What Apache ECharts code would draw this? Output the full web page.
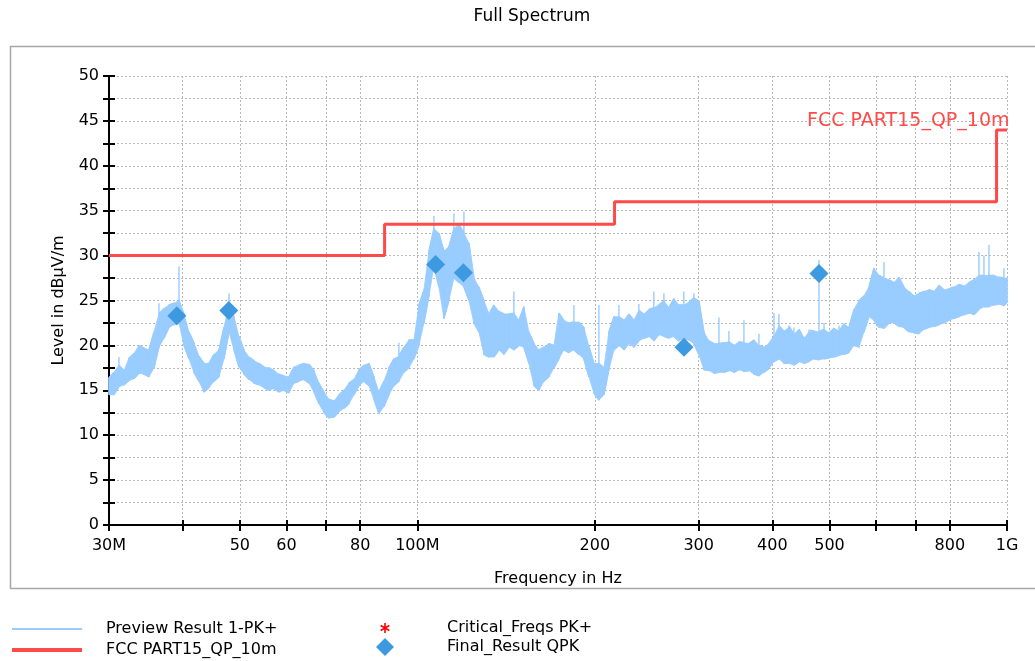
<!DOCTYPE html>
<html><head><meta charset="utf-8">
<script src="https://cdn.jsdelivr.net/npm/echarts@6/dist/echarts.min.js"></script>
<style>html,body{margin:0;padding:0;background:#fff}#c{width:1035px;height:661px}</style>
</head><body><div id="c"></div><script>
// ---- Preview Result 1-PK+ : sampled frequencies (MHz) with min/max of trace at each sample
const previewFreqMHz = [
30.00,30.59,31.19,31.81,32.44,33.08,33.73,34.39,35.07,35.76,36.46,37.18,37.92,38.66,39.43,40.20,41.00,41.80,42.63,43.47,
44.33,45.20,46.09,47.00,47.93,48.87,49.83,50.81,51.82,52.84,53.88,54.94,56.02,57.12,58.25,59.40,60.57,61.76,62.98,64.22,
65.50,66.79,68.11,69.45,70.82,72.22,73.64,75.09,76.57,78.08,79.61,81.18,82.78,84.41,86.07,87.77,89.50,91.26,93.06,94.89,
96.78,98.69,100.63,102.62,104.64,106.70,108.80,110.95,113.13,115.36,117.64,119.96,122.32,124.73,127.19,129.70,132.25,134.86,137.51,140.22,
143.0,145.8,148.7,151.6,154.6,157.7,160.8,163.9,167.2,170.5,173.8,177.2,180.7,184.3,187.9,191.6,195.4,199.3,203.2,207.2,
211.3,215.5,219.7,224.0,228.4,232.9,237.5,242.2,247.0,251.8,256.8,261.9,267.0,272.3,277.7,283.1,288.7,294.4,300.2,306.2,
312.3,318.5,324.7,331.1,337.6,344.3,351.1,358.0,365.1,372.3,379.6,387.1,394.7,402.5,410.4,418.5,426.8,435.2,443.8,452.5,
461.5,470.6,479.9,489.4,499.0,508.8,518.9,529.1,539.5,550.2,561.0,572.0,583.3,594.8,606.5,618.5,630.7,643.1,655.8,668.7,
681.9,695.3,709.0,723.0,737.3,751.8,766.6,781.7,797.1,812.8,828.9,845.2,861.9,878.9,896.2,913.9,931.9,950.3,969.0,988.1,1000
];
const previewLow = [
14.5,14.5,15.4,15.6,16.1,16.3,16.9,16.8,16.5,17.5,19.8,20.8,22.0,22.3,22.5,20.0,18.5,17.0,16.0,14.8,
15.3,16.0,16.5,18.5,21.5,19.5,17.6,16.8,16.2,15.8,15.6,15.3,15.0,15.2,14.8,15.0,14.7,15.8,16.0,16.2,
15.8,14.8,13.5,12.5,11.9,12.0,12.6,13.0,13.5,14.5,15.5,16.0,15.5,14.0,12.4,13.2,14.5,15.5,16.0,17.0,
17.5,18.5,20.0,22.5,25.5,28.8,26.5,23.0,25.0,27.5,27.0,26.5,25.0,22.5,21.5,19.0,18.7,18.7,19.5,19.0,
19.8,19.5,20.0,19.8,18.0,15.5,15.0,16.0,16.5,17.5,18.5,19.5,19.2,19.5,19.0,18.5,16.5,14.7,13.9,14.5,
17.3,19.5,20.0,19.5,20.2,19.8,20.5,20.8,21.0,20.5,21.2,21.0,20.8,21.0,20.5,20.8,20.6,20.2,19.0,17.3,
17.2,16.9,17.0,17.0,17.2,17.0,17.3,17.1,17.2,16.8,16.6,17.0,17.4,18.2,18.5,18.0,18.0,17.8,18.2,18.0,
18.2,18.5,18.4,18.5,18.6,18.7,18.9,19.0,19.2,20.0,19.8,21.5,23.2,22.8,22.0,21.9,22.5,22.5,22.1,22.0,
21.5,21.4,21.3,21.8,22.0,22.1,22.3,22.5,22.8,23.0,23.2,23.4,23.6,23.4,24.0,24.3,24.3,24.5,24.6,24.4,24.8
];
const previewHigh = [
16.4,17.0,17.8,17.2,18.6,19.1,20.0,19.7,19.5,21.5,23.5,24.1,24.5,24.7,25.0,23.5,21.5,20.3,18.8,18.0,
18.0,19.0,19.5,22.0,24.5,23.2,21.0,19.5,18.7,18.3,18.0,17.6,17.5,17.2,16.8,16.6,16.5,17.6,17.8,18.0,
17.9,17.2,15.8,14.8,14.0,13.8,14.5,15.0,15.8,16.2,17.3,17.8,18.0,16.5,14.8,16.0,17.5,18.5,18.8,19.8,
20.6,20.6,24.5,26.2,30.5,33.0,32.5,30.5,31.0,33.0,33.5,32.5,31.4,27.5,26.5,25.0,23.5,24.5,23.8,23.5,
23.5,23.6,22.8,24.3,21.5,20.2,19.5,19.8,20.2,20.0,23.6,22.8,22.5,22.6,22.6,22.0,19.9,18.0,18.0,17.5,
21.5,23.2,23.2,22.8,23.5,22.8,23.9,23.5,24.0,24.2,24.5,25.0,24.2,25.2,24.5,24.5,24.8,25.3,25.0,21.5,
20.5,20.2,20.2,20.3,20.4,20.0,20.4,20.3,20.2,20.6,20.0,19.8,20.2,21.0,22.2,21.6,22.0,21.2,21.8,20.8,
21.5,21.6,21.5,21.8,21.4,21.9,21.6,22.4,22.0,24.0,25.0,25.5,26.5,28.6,27.8,27.5,27.3,27.0,27.6,26.5,
26.0,25.5,25.8,26.0,26.2,26.0,26.7,26.2,26.3,26.5,26.8,26.6,27.0,27.3,27.8,27.8,27.8,27.8,27.6,27.5,27.5
];
// narrow spikes of the trace: [frequency MHz, peak level]
const previewSpikes = [
[31.19,18.7],[36.46,24.7],[39.43,28.8],[47.93,25.8],[93.06,20.3],[106.70,34.4],[115.36,34.7],[119.96,34.9],
[145.8,26.0],[184.3,24.5],[203.2,24.5],[219.7,24.5],[237.5,24.6],[251.8,26.0],[261.9,25.8],[283.1,26.0],
[294.4,25.8],[324.7,23.1],[337.6,21.6],[358.0,22.8],[379.6,21.3],[402.5,23.6],[410.4,23.5],[426.8,22.2],
[435.2,22.0],[461.5,21.7],[479.9,29.5],[489.4,22.5],[518.9,22.2],[539.5,22.0],[618.5,29.3],
[896.2,30.4],[913.9,30.0],[931.9,31.2],[988.1,28.6]
];
// ---- FCC PART15_QP_10m limit
const limitFreqMHz = [30, 88, 88, 216, 216, 960, 960, 1000];
const limitLevel   = [30, 30, 33.5, 33.5, 36, 36, 44, 44];
// ---- Final_Result QPK
const finalFreqMHz = [39.1, 47.9, 107.4, 119.7, 283.3, 479.9];
const finalLevel   = [23.3, 23.9, 29.0, 28.1, 19.8, 28.0];
// ---- Critical_Freqs PK+ (none)
const criticalFreqs = [];
// ---- axis ticks
const xTickValues  = [30,40,50,60,70,80,100,200,300,400,500,600,700,800,1000];
const xLabelValues = [30,50,60,80,100,200,300,400,500,800,1000];
const xLabelNames  = {30:'30M',100:'100M',1000:'1G'};

const FONT = 'DejaVu Sans, Verdana, sans-serif';
const spikeMap = {};
previewSpikes.forEach(s => { spikeMap[s[0]] = s[1]; });

const traceData = [];
previewFreqMHz.forEach((f, i) => {
  const seq = [[f, previewLow[i]]];
  if (spikeMap[f] !== undefined) seq.push([f, spikeMap[f]]);
  seq.push([f, previewHigh[i]]);
  if (i % 2 === 1) seq.reverse();
  seq.forEach(p => traceData.push(p));
});
const bandQuads = [];
for (let i = 0; i < previewFreqMHz.length - 1; i++) {
  bandQuads.push([previewFreqMHz[i], previewLow[i], previewHigh[i],
                  previewFreqMHz[i+1], previewLow[i+1], previewHigh[i+1]]);
}
const limitData = limitFreqMHz.map((f, i) => [f, limitLevel[i]]);
const finalData = finalFreqMHz.map((f, i) => [f, finalLevel[i]]);

const starPath = 'path://M-4,-4h0.01v0.01h-0.01Z M14,14h0.01v0.01h-0.01Z M4.2,0H5.8V10H4.2Z M1.07,1.81L9.73,6.81L8.93,8.19L0.27,3.19Z M0.27,6.81L8.93,1.81L9.73,3.19L1.07,8.19Z';

const BLUE_L = '#99ccff', RED = '#ff4a4a', BLUE_D = '#3d99e0';
const txt = {color:'#000', fontFamily: FONT, fontSize: 16};

const chart = echarts.init(document.getElementById('c'), null, {renderer:'canvas'});
chart.setOption({
  animation: false,
  backgroundColor: '#fff',
  title: { text: 'Full Spectrum', left: 527, top: 3, textAlign: 'center',
    textStyle: {color:'#000', fontFamily: FONT, fontSize: 17, fontWeight: 'normal'} },
  graphic: [{ type:'rect', silent:true, z:-10,
    shape:{x:10.5, y:46.5, width:1040, height:542},
    style:{fill:'none', stroke:'#a6a6a6', lineWidth:1.5} }],
  grid: { left: 109, right: 28, top: 76, bottom: 136 },
  xAxis: [{
    type:'log', logBase:10, min:30, max:1000, position:'bottom',
    axisLine:{show:true, onZero:false, lineStyle:{color:'#000', width:2}},
    axisTick:{show:true, customValues:xTickValues, length:6, lineStyle:{color:'#000', width:2}},
    axisLabel:{customValues:xLabelValues, margin:13, ...txt,
      formatter: v => { const r = Math.round(v); return xLabelNames[r] || String(r); }},
    splitLine:{show:true, lineStyle:{color:'#b8b8b8', width:1, type:[2,2]}},
    name:'Frequency in Hz', nameLocation:'middle', nameGap:46, nameTextStyle: txt
  },{
    type:'log', logBase:10, min:30, max:1000, position:'bottom',
    axisLine:{show:false},
    axisTick:{show:true, inside:true, customValues:xTickValues, length:5, lineStyle:{color:'#000', width:2}},
    axisLabel:{show:false}, splitLine:{show:false}
  }],
  yAxis: [{
    type:'value', min:0, max:50, interval:2.5, position:'left',
    axisLine:{show:true, onZero:false, lineStyle:{color:'#000', width:2}},
    axisTick:{show:true, length:6, lineStyle:{color:'#000', width:2}},
    axisLabel:{margin:10, ...txt, formatter: v => (Math.abs(v % 5) < 1e-6 ? String(v) : '')},
    splitLine:{show:true, lineStyle:{color:'#b8b8b8', width:1, type:[2,2]}},
    name:'Level in dBµV/m', nameLocation:'middle', nameGap:42, nameRotate:90, nameTextStyle: txt
  },{
    type:'value', min:0, max:50, interval:2.5, position:'left',
    axisLine:{show:false},
    axisTick:{show:true, inside:true, length:6, lineStyle:{color:'#000', width:2}},
    axisLabel:{show:false}, splitLine:{show:false}
  }],
  legend: [{
    left:10, top:621, orient:'vertical', padding:0, itemWidth:70, itemHeight:14, itemGap:5,
    selectedMode:false, itemStyle:{opacity:0},
    data:[{name:'Preview Result 1-PK+', lineStyle:{width:2}}, {name:'FCC PART15_QP_10m', lineStyle:{width:4}}],
    textStyle:{...txt, padding:[0,0,0,19]}
  },{
    left:376, top:619, orient:'vertical', padding:0, itemWidth:18, itemHeight:18, itemGap:1,
    selectedMode:false, data:['Critical_Freqs PK+','Final_Result QPK'],
    textStyle:{...txt, padding:[0,0,0,48]}
  }],
  series: [
    { name:'band', type:'custom', data: bandQuads, silent:true, z:1,
      encode:{x:[0,3], y:[1,2,4,5]},
      renderItem: (params, api) => {
        const a = api.coord([api.value(0), api.value(1)]);
        const b = api.coord([api.value(0), api.value(2)]);
        const c = api.coord([api.value(3), api.value(5)]);
        const d = api.coord([api.value(3), api.value(4)]);
        return {type:'polygon', shape:{points:[a,b,c,d]},
                style:{fill:BLUE_L, stroke:BLUE_L, lineWidth:0.8}};
      } },
    { name:'Preview Result 1-PK+', type:'line', data: traceData, symbol:'none', silent:true,
      color: BLUE_L, lineStyle:{color:BLUE_L, width:1.4}, z:2 },
    { name:'FCC PART15_QP_10m', type:'line', data: limitData, symbol:'none', silent:true,
      color: RED, lineStyle:{color:RED, width:3}, z:3,
      markPoint:{ symbol:'rect', symbolSize:1, itemStyle:{color:'rgba(0,0,0,0)'}, silent:true,
        data:[{coord:[1000,45], name:'FCC PART15_QP_10m'}],
        label:{show:true, position:'left', distance:-3, formatter:'FCC PART15_QP_10m',
          color:RED, fontFamily:FONT, fontSize:19} } },
    { name:'Critical_Freqs PK+', type:'scatter', data: criticalFreqs, symbol: starPath, symbolSize:18,
      color:'#ff0000', itemStyle:{color:'#ff0000', opacity:1}, z:4 },
    { name:'Final_Result QPK', type:'scatter', data: finalData, symbol:'diamond', symbolSize:19,
      color: BLUE_D, itemStyle:{color:BLUE_D, opacity:1}, z:5 }
  ]
});
</script></body></html>
